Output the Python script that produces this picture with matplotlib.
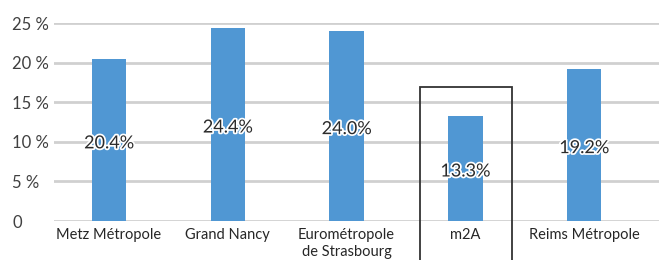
import matplotlib.pyplot as plt
import matplotlib.patheffects as pe
from matplotlib.patches import Rectangle

# Données
territoires = ['Metz Métropole', 'Grand Nancy', 'Eurométropole\nde Strasbourg', 'm2A', 'Reims Métropole']
valeurs = [20.4, 24.4, 24.0, 13.3, 19.2]
etiquettes = ['20.4%', '24.4%', '24.0%', '13.3%', '19.2%']
graduations = [0, 5, 10, 15, 20, 25]
libelles_y = ['0', '5 %', '10 %', '15 %', '20 %', '25 %']
mis_en_avant = 'm2A'

plt.rcParams['font.family'] = ['Lato', 'DejaVu Sans']

fig = plt.figure(figsize=(6.59, 2.60), dpi=100)
ax = fig.add_axes([54 / 659, 39 / 260, 1 - 54 / 659, 198 / 260])

x = list(range(len(territoires)))
ax.bar(x, valeurs, width=0.29, color='#5097d3', zorder=2)

for xi, v, lab in zip(x, valeurs, etiquettes):
    ax.text(xi, v / 2 - 0.4, lab, ha='center', va='center', fontsize=13,
            color='#2b2b2b', zorder=4,
            path_effects=[pe.withStroke(linewidth=2.5, foreground='white')])

# Encadré autour de m2A
i = territoires.index(mis_en_avant)
ax.add_patch(Rectangle((i - 0.38, -6), 0.77, 22.9, fill=False, edgecolor='#333333',
                       linewidth=1.3, clip_on=False, zorder=3))

ax.set_xlim(-0.463, 4.63)
ax.set_ylim(0, 25)
ax.set_yticks(graduations)
ax.set_yticklabels(libelles_y, fontsize=12, color='#404040')
for t in ax.get_yticklabels():
    t.set_horizontalalignment('left')
ax.tick_params(axis='y', length=0, pad=30)
ax.set_xticks(x)
ax.set_xticklabels(territoires, fontsize=10.5, color='#262626', linespacing=1.3)
ax.tick_params(axis='x', length=0, pad=5)

ax.grid(axis='y', color='#d0d0d0', linewidth=2, zorder=0)
for s in ax.spines.values():
    s.set_visible(False)

fig.savefig('out.png', dpi=100)
